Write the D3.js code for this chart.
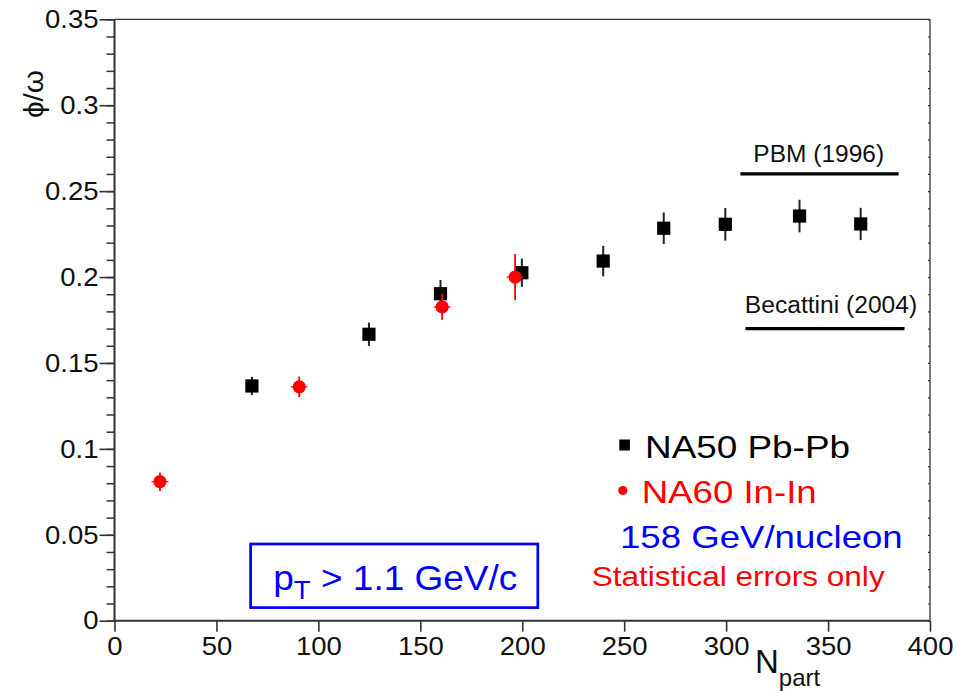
<!DOCTYPE html>
<html>
<head>
<meta charset="utf-8">
<script src="https://cdn.jsdelivr.net/npm/d3@7/dist/d3.min.js"></script>
<style>
  html, body { margin: 0; padding: 0; background: #fff; }
  svg { display: block; font-family: "Liberation Sans", Arial, Helvetica, sans-serif; }
</style>
</head>
<body>
<svg id="chart" width="956" height="691"></svg>
<script>
// ---- data ----
const na50Npart = [67.4, 124.8, 159.9, 199.8, 239.7, 269.4, 299.6, 336.0, 366.0];
const na50Ratio = [0.1366, 0.1667, 0.1903, 0.2025, 0.2093, 0.2284, 0.2307, 0.2355, 0.2309];
const na50Err   = [0.0053, 0.0068, 0.0080, 0.0082, 0.0089, 0.0092, 0.0095, 0.0095, 0.0094];

const na60Npart = [22.3, 90.6, 160.7, 196.5];
const na60Ratio = [0.0809, 0.1361, 0.1826, 0.2000];
const na60Err   = [0.0054, 0.0060, 0.0075, 0.0134];

const modelNames  = ["PBM (1996)", "Becattini (2004)"];
const modelValues = [0.26, 0.17];
const modelFrom   = [307, 309.5];
const modelTo     = [384.6, 387.5];

const xTicks = [0, 50, 100, 150, 200, 250, 300, 350, 400];
const xTickLabels = ["0", "50", "100", "150", "200", "250", "300", "350", "400"];
const yTicks = [0, 0.05, 0.1, 0.15, 0.2, 0.25, 0.3, 0.35];
const yTickLabels = ["0", "0.05", "0.1", "0.15", "0.2", "0.25", "0.3", "0.35"];
const yMinor = d3.range(0, 36).map(i => i / 100);

const legendLabels = ["NA50 Pb-Pb", "NA60 In-In", "158 GeV/nucleon", "Statistical errors only"];

// ---- drawing ----
const svg = d3.select("#chart");
const x = d3.scaleLinear().domain([0, 400]).range([114.5, 930]);
const y = d3.scaleLinear().domain([0, 0.35]).range([620.7, 19.3]);
const axisColor = "#333";
const sx = 1.1;

// minor y ticks
const yMinorAxis = d3.axisLeft(y).tickValues(yMinor).tickSize(8).tickFormat("");
const gMinor = svg.append("g").attr("transform", `translate(${x(0)},0)`).call(yMinorAxis);
gMinor.select(".domain").remove();
gMinor.selectAll("line").attr("stroke", axisColor).attr("stroke-width", 1.5);

// right small ticks
const yRightAxis = d3.axisLeft(y).tickValues(yMinor).tickSize(2).tickFormat("");
const gRight = svg.append("g").attr("transform", `translate(${x(400)},0)`).call(yRightAxis);
gRight.select(".domain").remove();
gRight.selectAll("line").attr("stroke", axisColor).attr("stroke-width", 1.2);

// major y axis
const yAxis = d3.axisLeft(y).tickValues(yTicks).tickSize(15).tickPadding(1)
  .tickFormat((d, i) => yTickLabels[i]);
const gy = svg.append("g").attr("transform", `translate(${x(0)},0)`).call(yAxis);
gy.select(".domain").remove();
gy.selectAll("line").attr("stroke", axisColor).attr("stroke-width", 1.6);
gy.selectAll("text")
  .attr("font-size", 25).attr("fill", "#111")
  .attr("font-family", "Liberation Sans, Arial, sans-serif")
  .attr("x", -16 / sx).attr("dy", "0.33em")
  .attr("transform", `scale(${sx},1)`);

// major x axis
const xAxis = d3.axisBottom(x).tickValues(xTicks).tickSize(11)
  .tickFormat((d, i) => xTickLabels[i]);
const gx = svg.append("g").attr("transform", `translate(0,${y(0)})`).call(xAxis);
gx.select(".domain").remove();
gx.selectAll("line").attr("stroke", axisColor).attr("stroke-width", 1.6);
gx.selectAll("text")
  .attr("font-size", 25).attr("fill", "#111")
  .attr("font-family", "Liberation Sans, Arial, sans-serif")
  .attr("y", 34).attr("dy", 0)
  .attr("transform", `scale(${sx},1)`);

// frame
svg.append("line").attr("x1", x(0)).attr("x2", x(400)).attr("y1", y(0.35)).attr("y2", y(0.35))
  .attr("stroke", axisColor).attr("stroke-width", 1.3);
svg.append("line").attr("x1", x(400)).attr("x2", x(400)).attr("y1", y(0.35)).attr("y2", y(0))
  .attr("stroke", axisColor).attr("stroke-width", 1.3);
svg.append("line").attr("x1", x(0)).attr("x2", x(0)).attr("y1", y(0.35)).attr("y2", y(0) + 1)
  .attr("stroke", axisColor).attr("stroke-width", 2);
svg.append("line").attr("x1", x(0) - 1).attr("x2", x(400)).attr("y1", y(0)).attr("y2", y(0))
  .attr("stroke", axisColor).attr("stroke-width", 2);

// text helper
function txt(str, xp, yp, size, width, color, anchor) {
  const t = svg.append("text").attr("x", xp).attr("y", yp)
    .attr("font-size", size).attr("fill", color)
    .attr("text-anchor", anchor || "start").text(str);
  if (width) t.attr("textLength", width).attr("lengthAdjust", "spacingAndGlyphs");
  return t;
}

// model lines
const modelLabelX = [818.7, 831];
const modelLabelY = [161.7, 313.3];
const modelLabelW = [130.7, 172.3];
modelNames.forEach((name, i) => {
  svg.append("line")
    .attr("x1", x(modelFrom[i])).attr("x2", x(modelTo[i]))
    .attr("y1", y(modelValues[i])).attr("y2", y(modelValues[i]))
    .attr("stroke", "#000").attr("stroke-width", 3.2);
  txt(name, modelLabelX[i], modelLabelY[i], 23, modelLabelW[i], "#111", "middle");
});

// NA50 points
const na50 = na50Npart.map((n, i) => ({ n, r: na50Ratio[i], e: na50Err[i] }));
const g50 = svg.append("g");
g50.selectAll("line.err").data(na50).join("line").attr("class", "err")
  .attr("x1", d => x(d.n)).attr("x2", d => x(d.n))
  .attr("y1", d => y(d.r - d.e)).attr("y2", d => y(d.r + d.e))
  .attr("stroke", "#222").attr("stroke-width", 2);
g50.selectAll("rect").data(na50).join("rect")
  .attr("x", d => x(d.n) - 6.6).attr("y", d => y(d.r) - 6.6)
  .attr("width", 13.2).attr("height", 13.2).attr("fill", "#000");

// NA60 points
const na60 = na60Npart.map((n, i) => ({ n, r: na60Ratio[i], e: na60Err[i] }));
const g60 = svg.append("g");
g60.selectAll("line.err").data(na60).join("line").attr("class", "err")
  .attr("x1", d => x(d.n)).attr("x2", d => x(d.n))
  .attr("y1", d => y(d.r - d.e)).attr("y2", d => y(d.r + d.e))
  .attr("stroke", "#f00").attr("stroke-width", 1.8);
g60.selectAll("line.herr").data(na60).join("line").attr("class", "herr")
  .attr("x1", d => x(d.n) - 8.5).attr("x2", d => x(d.n) + 8.5)
  .attr("y1", d => y(d.r)).attr("y2", d => y(d.r))
  .attr("stroke", "#f00").attr("stroke-width", 1.2);
g60.selectAll("circle").data(na60).join("circle")
  .attr("cx", d => x(d.n)).attr("cy", d => y(d.r)).attr("r", 6.6).attr("fill", "#f00");

// legend
svg.append("rect").attr("x", 619.3).attr("y", 439.5).attr("width", 10.6).attr("height", 11).attr("fill", "#000");
txt(legendLabels[0], 645, 458, 32, 205, "#000");
svg.append("circle").attr("cx", 622.8).attr("cy", 490.5).attr("r", 4.6).attr("fill", "#f00");
txt(legendLabels[1], 641.7, 503.3, 32, 175, "#f00");
txt(legendLabels[2], 620, 548.3, 32, 282.7, "#00f");
txt(legendLabels[3], 591.7, 586, 28.5, 293, "#f00");

// pT box
svg.append("rect").attr("x", 250.6).attr("y", 544).attr("width", 287.2).attr("height", 63.6)
  .attr("fill", "none").attr("stroke", "#00f").attr("stroke-width", 2.7);
const pt = svg.append("text").attr("x", 273.3).attr("y", 590).attr("font-size", 35).attr("fill", "#00f")
  .attr("textLength", 244).attr("lengthAdjust", "spacingAndGlyphs");
pt.append("tspan").text("p");
pt.append("tspan").attr("font-size", 26).attr("dy", 9).text("T");
pt.append("tspan").attr("dy", -9).text(" > 1.1 GeV/c");

// y title
svg.append("text").attr("transform", "translate(43,94) rotate(-90)")
  .attr("text-anchor", "middle").attr("font-size", 28).attr("fill", "#111")
  .attr("textLength", 48).attr("lengthAdjust", "spacingAndGlyphs")
  .text("\u03D5/\u03C9");

// x title
const xt = svg.append("text").attr("x", 755).attr("y", 673).attr("font-size", 33).attr("fill", "#111");
xt.append("tspan").text("N");
xt.append("tspan").attr("font-size", 24).attr("dy", 13).attr("dx", 0).text("part");
</script>
</body>
</html>
